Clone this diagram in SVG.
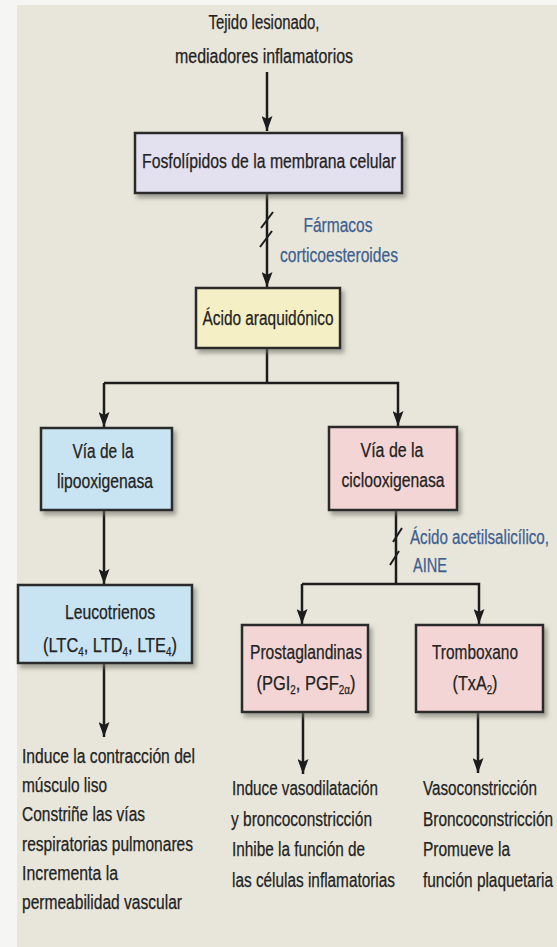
<svg xmlns="http://www.w3.org/2000/svg" width="557" height="947" viewBox="0 0 557 947">
<style>
.t{font-family:"Liberation Sans Narrow","Liberation Sans",Arial,sans-serif;font-size:20px;fill:#222;stroke:#222;stroke-width:0.25}
.c{text-anchor:middle}
.b{fill:#3d5f8f;stroke:#3d5f8f}
.box{stroke:#2a2a2a;stroke-width:2.5;filter:url(#sh)}
.ln{stroke:#1c1c1c;stroke-width:2.5;fill:none}
.sl{stroke:#1c1c1c;stroke-width:2;fill:none}
.sub{font-size:12px}
</style>
<defs>
<filter id="sh" x="-10%" y="-10%" width="130%" height="140%">
<feDropShadow dx="3" dy="4" stdDeviation="2" flood-color="#6f6f68" flood-opacity="0.6"/>
</filter>
<marker id="ah" markerUnits="userSpaceOnUse" markerWidth="16" markerHeight="11" refX="15" refY="5.5" orient="auto">
<path d="M0,0 L15,5.5 L0,11 L3,5.5 z" fill="#1c1c1c"/>
</marker>
</defs>
<rect x="0" y="0" width="557" height="947" fill="#f5f5f3"/>
<rect x="17" y="5" width="540" height="942" fill="#e8e6da"/>

<g id="source">
<text class="t c" x="264" y="29" textLength="111" lengthAdjust="spacingAndGlyphs">Tejido lesionado,</text>
<text class="t c" x="264" y="63" textLength="178" lengthAdjust="spacingAndGlyphs">mediadores inflamatorios</text>
</g>

<g id="connectors">
<line class="ln" x1="267" y1="72" x2="267" y2="131" marker-end="url(#ah)"/>
<line class="ln" x1="267" y1="194" x2="267" y2="287" marker-end="url(#ah)"/>
<line class="sl" x1="261" y1="228" x2="273" y2="212"/>
<line class="sl" x1="260" y1="247" x2="272" y2="231"/>
<polyline class="ln" points="267,349 267,383"/>
<polyline class="ln" points="104,383 398,383 398,426" marker-end="url(#ah)"/>
<line class="ln" x1="104" y1="383" x2="104" y2="427" marker-end="url(#ah)"/>
<line class="ln" x1="104" y1="511" x2="104" y2="584" marker-end="url(#ah)"/>
<line class="ln" x1="104" y1="664" x2="104" y2="737" marker-end="url(#ah)"/>
<polyline class="ln" points="396,511 396,584"/>
<line class="sl" x1="393" y1="542" x2="402" y2="528"/>
<line class="sl" x1="390" y1="565" x2="399" y2="551"/>
<polyline class="ln" points="302,584 479,584 479,624" marker-end="url(#ah)"/>
<line class="ln" x1="302" y1="584" x2="302" y2="624" marker-end="url(#ah)"/>
<line class="ln" x1="303" y1="713" x2="303" y2="774" marker-end="url(#ah)"/>
<line class="ln" x1="478" y1="713" x2="478" y2="773" stroke-width="2" marker-end="url(#ah)"/>
</g>

<g id="fosfolipidos">
<rect class="box" x="135" y="133" width="267" height="60" fill="#e3e0f0"/>
<text class="t c" x="269" y="168" textLength="254" lengthAdjust="spacingAndGlyphs">Fosfolípidos de la membrana celular</text>
</g>

<g id="farmacos">
<text class="t c b" x="338" y="232" textLength="69" lengthAdjust="spacingAndGlyphs">Fármacos</text>
<text class="t c b" x="339" y="262" textLength="118" lengthAdjust="spacingAndGlyphs">corticoesteroides</text>
</g>

<g id="araquidonico">
<rect class="box" x="196" y="288" width="144" height="60" fill="#f5efc6"/>
<text class="t c" x="268" y="325" textLength="131" lengthAdjust="spacingAndGlyphs">Ácido araquidónico</text>
</g>

<g id="lipooxigenasa">
<rect class="box" x="41" y="428" width="131" height="82" fill="#c8e3f2"/>
<text class="t c" x="103" y="458" textLength="61" lengthAdjust="spacingAndGlyphs">Vía de la</text>
<text class="t c" x="105" y="488" textLength="96" lengthAdjust="spacingAndGlyphs">lipooxigenasa</text>
</g>

<g id="leucotrienos">
<rect class="box" x="18" y="585" width="174" height="78" fill="#c8e3f2"/>
<text class="t c" x="110" y="619" textLength="90" lengthAdjust="spacingAndGlyphs">Leucotrienos</text>
<text class="t c" x="110" y="652" textLength="134" lengthAdjust="spacingAndGlyphs">(LTC<tspan class="sub" dy="4">4</tspan><tspan dy="-4">, LTD</tspan><tspan class="sub" dy="4">4</tspan><tspan dy="-4">, LTE</tspan><tspan class="sub" dy="4">4</tspan><tspan dy="-4">)</tspan></text>
</g>

<g id="efectos-leucotrienos">
<text class="t" x="22" y="763" textLength="173" lengthAdjust="spacingAndGlyphs">Induce la contracción del</text>
<text class="t" x="22" y="792" textLength="85" lengthAdjust="spacingAndGlyphs">músculo liso</text>
<text class="t" x="22" y="821" textLength="123" lengthAdjust="spacingAndGlyphs">Constriñe las vías</text>
<text class="t" x="22" y="851" textLength="171" lengthAdjust="spacingAndGlyphs">respiratorias pulmonares</text>
<text class="t" x="22" y="880" textLength="96" lengthAdjust="spacingAndGlyphs">Incrementa la</text>
<text class="t" x="22" y="909" textLength="160" lengthAdjust="spacingAndGlyphs">permeabilidad vascular</text>
</g>

<g id="ciclooxigenasa">
<rect class="box" x="329" y="427" width="128" height="83" fill="#f4d5d5"/>
<text class="t c" x="392" y="457" textLength="63" lengthAdjust="spacingAndGlyphs">Vía de la</text>
<text class="t c" x="393" y="487" textLength="103" lengthAdjust="spacingAndGlyphs">ciclooxigenasa</text>
</g>

<g id="aine">
<text class="t b" x="410" y="544" textLength="139" lengthAdjust="spacingAndGlyphs">Ácido acetilsalicílico,</text>
<text class="t b" x="413" y="572" textLength="34" lengthAdjust="spacingAndGlyphs">AINE</text>
</g>

<g id="prostaglandinas">
<rect class="box" x="242" y="625" width="126" height="87" fill="#f4d5d5"/>
<text class="t c" x="306" y="659" textLength="112" lengthAdjust="spacingAndGlyphs">Prostaglandinas</text>
<text class="t c" x="306" y="690" textLength="99" lengthAdjust="spacingAndGlyphs">(PGI<tspan class="sub" dy="4">2</tspan><tspan dy="-4">, PGF</tspan><tspan class="sub" dy="4">2α</tspan><tspan dy="-4">)</tspan></text>
</g>

<g id="tromboxano">
<rect class="box" x="416" y="625" width="127" height="87" fill="#f4d5d5"/>
<text class="t c" x="475" y="659" textLength="86" lengthAdjust="spacingAndGlyphs">Tromboxano</text>
<text class="t c" x="475" y="690" textLength="45" lengthAdjust="spacingAndGlyphs">(TxA<tspan class="sub" dy="4">2</tspan><tspan dy="-4">)</tspan></text>
</g>

<g id="efectos-prostaglandinas">
<text class="t" x="232" y="795" textLength="146" lengthAdjust="spacingAndGlyphs">Induce vasodilatación</text>
<text class="t" x="231" y="826" textLength="141" lengthAdjust="spacingAndGlyphs">y broncoconstricción</text>
<text class="t" x="232" y="856" textLength="133" lengthAdjust="spacingAndGlyphs">Inhibe la función de</text>
<text class="t" x="232" y="887" textLength="163" lengthAdjust="spacingAndGlyphs">las células inflamatorias</text>
</g>

<g id="efectos-tromboxano">
<text class="t" x="423" y="795" textLength="114" lengthAdjust="spacingAndGlyphs">Vasoconstricción</text>
<text class="t" x="423" y="826" textLength="130" lengthAdjust="spacingAndGlyphs">Broncoconstricción</text>
<text class="t" x="423" y="856" textLength="87" lengthAdjust="spacingAndGlyphs">Promueve la</text>
<text class="t" x="423" y="887" textLength="130" lengthAdjust="spacingAndGlyphs">función plaquetaria</text>
</g>
</svg>
